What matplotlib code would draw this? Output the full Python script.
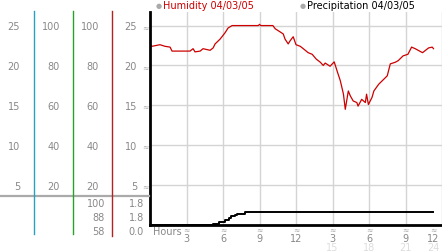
import matplotlib
matplotlib.use("Agg")
import matplotlib.pyplot as plt
from matplotlib.transforms import Affine2D
from matplotlib.lines import Line2D

# humidity trace (hours since midnight, value)
hum_hours = [0.0, 0.16, 0.82, 1.23, 1.65, 1.81, 3.29, 3.54, 3.70, 4.12, 4.36, 4.94, 5.19,
             5.35, 5.76, 6.17, 6.42, 6.75, 8.9, 9.0, 9.1, 10.1, 10.29, 10.7, 10.95, 11.1,
             11.36, 11.52, 11.77, 12.0, 12.35, 12.6, 13.0, 13.33, 13.66, 14.0, 14.24,
             14.4, 14.8, 15.14, 15.4, 15.64, 15.9, 16.05, 16.3, 16.46, 16.7, 17.0, 17.1,
             17.4, 17.7, 17.8, 17.95, 18.25, 18.4, 18.8, 19.1, 19.5, 19.75, 20.16, 20.4,
             20.8, 21.2, 21.5, 21.8, 22.4, 22.9, 23.2, 23.3]
humidity = [22.6, 22.4, 22.6, 22.4, 22.3, 21.8, 21.8, 22.1, 21.7, 21.8, 22.1, 21.9, 22.2,
            22.7, 23.3, 24.1, 24.7, 25.0, 25.0, 25.15, 25.0, 25.0, 24.6, 24.2, 23.95, 23.3,
            22.7, 23.1, 23.6, 22.6, 22.4, 22.1, 21.6, 21.4, 20.8, 20.4, 20.0,
            20.3, 19.9, 20.45, 19.2, 18.1, 16.4, 14.5, 16.8, 16.2, 15.55, 15.35, 14.9,
            15.75, 15.35, 16.4, 15.1, 16.0, 16.8, 17.65, 18.1, 18.7, 20.2, 20.4, 20.6,
            21.2, 21.4, 22.3, 22.1, 21.6, 22.2, 22.3, 22.1]

# cumulative precipitation (step)
pr_hours = [0.0, 5.16, 5.7, 6.17, 6.53, 6.64, 7.0, 7.13, 7.82, 23.3]
precip = [0.0, 0.1, 0.33, 0.61, 0.94, 1.18, 1.42, 1.5, 1.8, 1.8]

y_ticks = [5, 10, 15, 20, 25]
col1 = ["5", "10", "15", "20", "25"]
col2 = ["20", "40", "60", "80", "100"]
col3 = ["20", "40", "60", "80", "100"]
low_a = ["100", "88", "58"]
low_b = ["1.8", "1.8", "0.0"]
x_ticks = [3, 6, 9, 12, 15, 18, 21, 24]
x_labels = ["3", "6", "9", "12", "3", "6", "9", "12"]
x_labels2 = ["15", "18", "21", "24"]

W, H = 442, 253
fig = plt.figure(figsize=(W / 100, H / 100), dpi=100)
plt.rcParams['font.family'] = ['DejaVu Sans']
px = Affine2D().scale(1 / W, -1 / H).translate(0, 1) + fig.transFigure

ax = fig.add_axes([150 / W, (H - 226) / H, (W - 150) / W, (226 - 13) / H])
ax.set_xlim(0, 24)
ax.set_ylim(0, 26.7)
for h in x_ticks:
    ax.axvline(h, color="#d4d4d4", lw=1, zorder=0)
for v in y_ticks:
    ax.axhline(v, color="#d4d4d4", lw=1, zorder=0)
ax.plot(hum_hours, humidity, color="#cc0000", lw=0.9)

ax2 = ax.twinx()
ax2.set_ylim(-0.03, 30.2)
ax2.step(pr_hours, precip, where="post", color="black", lw=1.4)
ax2.axis("off")

ax.spines["top"].set_visible(False)
ax.spines["right"].set_visible(False)
ax.spines["left"].set_linewidth(2)
ax.spines["bottom"].set_linewidth(2)
ax.set_xticks([])
ax.set_yticks([])

fs = 7
gray = "#888888"
mk = 5.5

# y marks and labels on the left
for i, v in enumerate(y_ticks):
    yp = 226.5 - v * 7.97
    fig.text(145.5, yp, "≈", transform=px, fontsize=mk, color="#aaaaaa", ha="center", va="center")
    fig.text(20, yp, col1[i], transform=px, fontsize=fs, color=gray, ha="right", va="center")
    fig.text(60, yp, col2[i], transform=px, fontsize=fs, color=gray, ha="right", va="center")
    fig.text(99, yp, col3[i], transform=px, fontsize=fs, color=gray, ha="right", va="center")
    fig.text(137, yp, col1[i], transform=px, fontsize=fs, color=gray, ha="right", va="center")

for i, yp in enumerate([204, 218.5, 232.5]):
    fig.text(105, yp, low_a[i], transform=px, fontsize=fs, color=gray, ha="right", va="center")
    fig.text(144, yp, low_b[i], transform=px, fontsize=fs, color=gray, ha="right", va="center")

fig.add_artist(Line2D([0, 149], [197, 197], transform=px, color="#aaaaaa", lw=1.6))
fig.add_artist(Line2D([33.5, 33.5], [12, 235], transform=px, color="#2a9fc4", lw=1))
fig.add_artist(Line2D([72.5, 72.5], [12, 235], transform=px, color="#2ca02c", lw=1))
fig.add_artist(Line2D([111.5, 111.5], [12, 237], transform=px, color="#b22222", lw=1))

# x labels
fig.text(153, 232, "Hours", transform=px, fontsize=fs, color=gray, ha="left", va="center")
for i, h in enumerate(x_ticks):
    xp = 150 + h * 12.17
    ha = "center"
    if h == 24:
        xp = 439
        ha = "right"
    fig.text(xp if h < 24 else 433, 230, "≈", transform=px, fontsize=mk, color="#aaaaaa",
             ha="center", va="center")
    fig.text(xp, 239.5, x_labels[i], transform=px, fontsize=fs, color=gray, ha=ha, va="center")
for i, h in enumerate(x_ticks[4:]):
    xp = 150 + h * 12.17
    ha = "center"
    if h == 24:
        xp = 440
        ha = "right"
    fig.text(xp, 248.5, x_labels2[i], transform=px, fontsize=fs, color="#dddddd", ha=ha, va="center")

# legend
fig.text(159, 6, "●", transform=px, fontsize=5, color="#aaaaaa", ha="center", va="center")
fig.text(163, 6, "Humidity 04/03/05", transform=px, fontsize=fs, color="#cc0000", ha="left", va="center")
fig.text(303, 6, "●", transform=px, fontsize=5, color="#aaaaaa", ha="center", va="center")
fig.text(307, 6, "Precipitation 04/03/05", transform=px, fontsize=fs, color="black", ha="left", va="center")

fig.savefig("out.png", dpi=100)
